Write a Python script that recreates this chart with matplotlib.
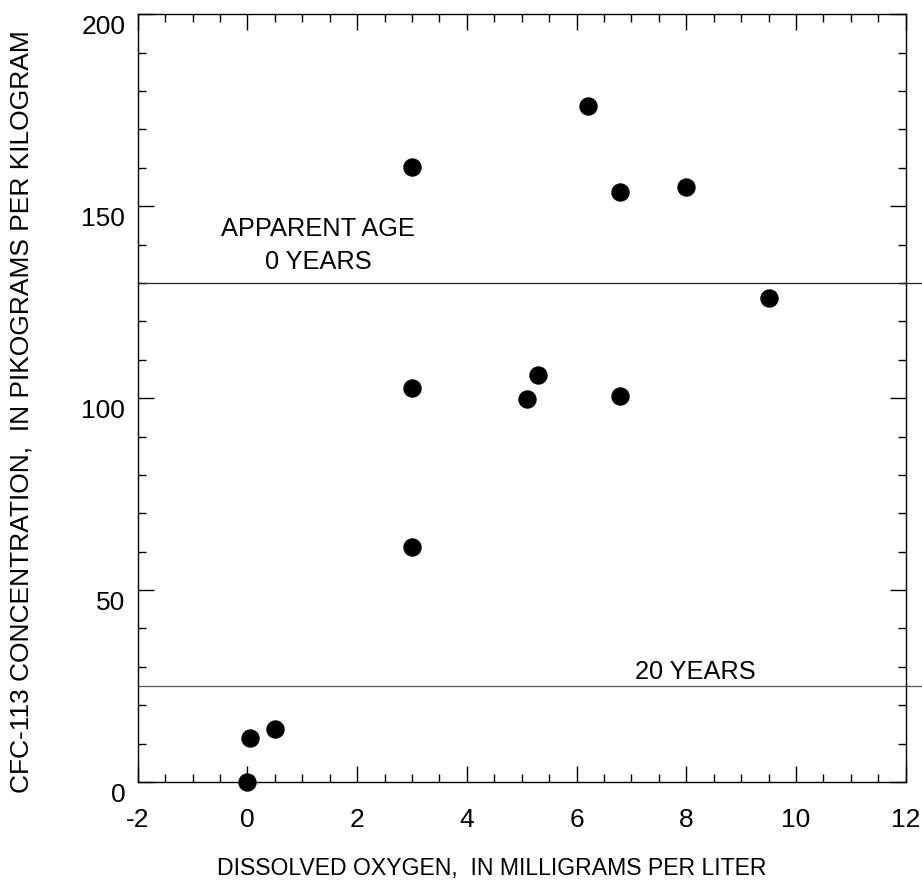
import matplotlib
matplotlib.use("Agg")
import matplotlib.pyplot as plt
from matplotlib.ticker import MultipleLocator
from matplotlib.transforms import ScaledTranslation

plt.rcParams['font.family'] = ['Liberation Sans', 'DejaVu Sans']

# Dissolved oxygen (mg/L) vs CFC-113 concentration (pg/kg)
oxygen = [0.0, 0.05, 0.5, 3.0, 3.0, 3.0, 5.1, 5.3, 6.8, 6.8, 6.2, 8.0, 9.5]
cfc113 = [0.0, 11.5, 13.8, 61.3, 102.6, 160.2, 99.9, 106.1, 100.5, 153.6, 176.0, 155.0, 126.2]

# Apparent-age reference lines
age_levels = [130, 25]
age_colors = ['#222222', '#555555']

xticks = [-2, 0, 2, 4, 6, 8, 10, 12]
yticks = [0, 50, 100, 150, 200]

fig = plt.figure(figsize=(9.22, 8.86), dpi=100)
ax = fig.add_axes([137.7 / 922, 104 / 886, 768 / 922, 767.7 / 886])

ax.scatter(oxygen, cfc113, s=150, color='black', zorder=3, clip_on=False)

for lvl, col in zip(age_levels, age_colors):
    ax.axhline(lvl, xmin=0, xmax=1.03, color=col, lw=0.9, clip_on=False, zorder=2)

ax.text(1.29, 144.0, 'APPARENT AGE', ha='center', va='center', fontsize=18.3)
ax.text(1.29, 135.4, '0 YEARS', ha='center', va='center', fontsize=18.3)
ax.text(8.17, 28.6, '20 YEARS', ha='center', va='center', fontsize=18.3)

ax.set_xlim(-2, 12)
ax.set_ylim(0, 200)
ax.set_xticks(xticks)
ax.set_yticks(yticks)
ax.set_xticklabels([str(t) for t in xticks])
ax.set_yticklabels([str(t) for t in yticks])
ax.xaxis.set_minor_locator(MultipleLocator(0.5))
ax.yaxis.set_minor_locator(MultipleLocator(10))

ax.tick_params(which='both', direction='in', top=True, right=True, width=1.0,
               labelsize=19)
ax.tick_params(which='major', length=11.5)
ax.tick_params(which='minor', length=6)
ax.tick_params(axis='x', which='major', pad=19)
ax.tick_params(axis='y', which='major', pad=9)
for sp in ax.spines.values():
    sp.set_linewidth(1.0)

# y labels sit a little below their ticks in the original
off = ScaledTranslation(0, -10 / 100, fig.dpi_scale_trans)
for lab in ax.get_yticklabels():
    lab.set_transform(lab.get_transform() + off)

fig.text(491.5 / 922, 1 - 868 / 886, 'DISSOLVED OXYGEN,  IN MILLIGRAMS PER LITER',
         ha='center', va='center', fontsize=16.6)
fig.text(22 / 922, 1 - 412 / 886, 'CFC-113 CONCENTRATION,  IN PIKOGRAMS PER KILOGRAM',
         ha='center', va='center', rotation=90, fontsize=19)

fig.savefig('out.png', dpi=100)
